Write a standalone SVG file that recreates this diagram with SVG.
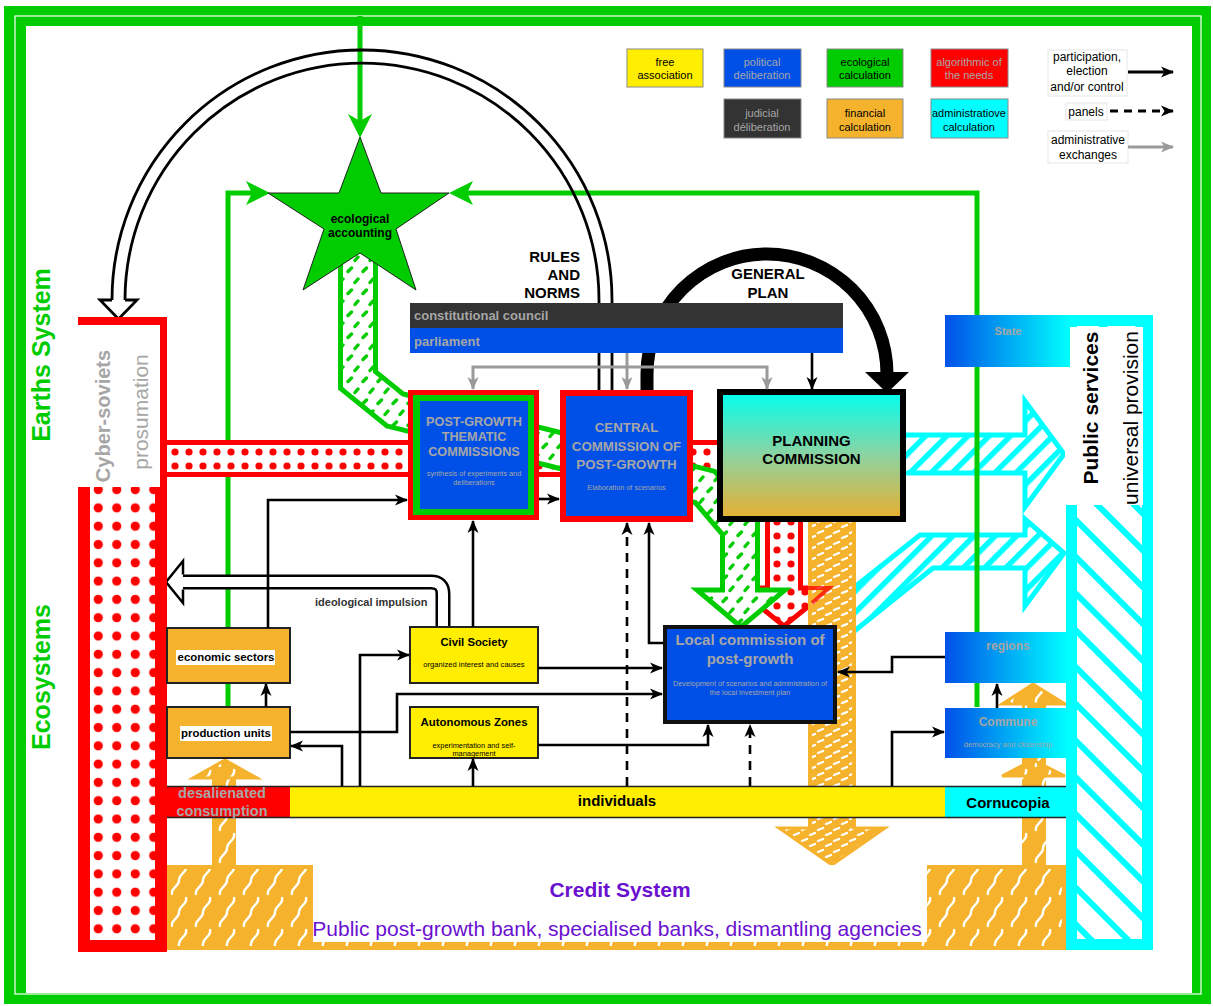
<svg xmlns="http://www.w3.org/2000/svg" width="1213" height="1006" viewBox="0 0 1213 1006">
<defs>
<pattern id="rdV" patternUnits="userSpaceOnUse" x="89" y="498.75" width="18.5" height="18.3"><rect width="18.5" height="18.3" fill="#fff"/><circle cx="9.25" cy="9.15" r="4.6" fill="#f00"/></pattern>
<pattern id="rdH" patternUnits="userSpaceOnUse" x="770" y="445" width="14" height="14"><rect width="14" height="14" fill="#fff"/><circle cx="7" cy="7" r="3.6" fill="#f00"/></pattern>
<pattern id="gd" patternUnits="userSpaceOnUse" width="15" height="22"><rect width="15" height="22" fill="#fff"/><path d="M3 7.5 L6.5 4 M10 18.5 L13 15" stroke="#00cc00" stroke-width="3.4" stroke-linecap="round"/></pattern>
<pattern id="od" patternUnits="userSpaceOnUse" width="16" height="11"><rect width="16" height="11" fill="#f5b22c"/><path d="M2 5 L7 3 M10 10 L15 8" stroke="#fff" stroke-width="2.4" stroke-linecap="round"/></pattern>
<pattern id="wave" patternUnits="userSpaceOnUse" width="24" height="32"><rect width="24" height="32" fill="#f5b22c"/><path d="M4 31 C 2 24, 11 23, 11 16 S 20 9, 18 1" stroke="#fff" stroke-width="2.4" fill="none"/></pattern>
<pattern id="ch" patternUnits="userSpaceOnUse" width="15" height="15" patternTransform="rotate(45)"><rect width="15" height="15" fill="#fff"/><rect width="5.5" height="15" fill="#00ffff"/></pattern>
<pattern id="ph" patternUnits="userSpaceOnUse" width="26" height="26" patternTransform="rotate(-45)"><rect width="26" height="26" fill="#fff"/><rect width="6" height="26" fill="#00ffff"/></pattern>
<linearGradient id="bc" x1="0" y1="0" x2="1" y2="0"><stop offset="0" stop-color="#0050e8"/><stop offset="1" stop-color="#00ffff"/></linearGradient>
<linearGradient id="pl" x1="0" y1="0" x2="0" y2="1"><stop offset="0" stop-color="#00fff0"/><stop offset="0.5" stop-color="#8dd3a0"/><stop offset="1" stop-color="#e9ae2e"/></linearGradient>
<marker id="ah" viewBox="0 0 14 14" refX="13" refY="7" markerWidth="14" markerHeight="14" markerUnits="userSpaceOnUse" orient="auto"><path d="M1,1.5 L14,7 L1,12.5 L4.5,7 z" fill="#000"/></marker>
<marker id="ahg" viewBox="0 0 14 14" refX="13" refY="7" markerWidth="14" markerHeight="14" markerUnits="userSpaceOnUse" orient="auto"><path d="M1,1.5 L14,7 L1,12.5 L4.5,7 z" fill="#9a9a9a"/></marker>
</defs>
<style>
text{font-family:"Liberation Sans",Arial,Helvetica,sans-serif}
.b{font-weight:bold}
.m{text-anchor:middle}
.c{fill:none;stroke:#000;stroke-width:2.6;marker-end:url(#ah)}
.d{stroke-dasharray:9 7}
.g{fill:none;stroke:#9a9a9a;stroke-width:3;marker-end:url(#ahg)}
.gt{fill:#a6a6a6}
.box{stroke:#222;stroke-width:2}
.lg{stroke:#888;stroke-width:1}
.gl{fill:none;stroke:#00cc00;stroke-width:5}
</style>

<g id="frame">
<rect x="4" y="6" width="1207" height="998" fill="#00cc00"/>
<rect x="15" y="16" width="1186" height="978" fill="none" stroke="#fff" stroke-width="1.2"/>
<rect x="26" y="26" width="1166" height="967" fill="#fff"/>
</g>

<g id="legend">
<rect class="lg" x="627" y="49" width="76" height="38" fill="#ffee00"/>
<text class="m" x="665" y="66" font-size="11">free</text><text class="m" x="665" y="79" font-size="11">association</text>
<rect class="lg" x="724" y="49" width="77" height="38" fill="#0050e8"/>
<text class="m gt" x="762" y="66" font-size="11">political</text><text class="m gt" x="762" y="79" font-size="11">deliberation</text>
<rect class="lg" x="827" y="49" width="76" height="38" fill="#00cc00"/>
<text class="m" x="865" y="66" font-size="11">ecological</text><text class="m" x="865" y="79" font-size="11">calculation</text>
<rect class="lg" x="931" y="49" width="77" height="38" fill="#ff0000"/>
<text class="m gt" x="969" y="66" font-size="11">algorithmic of</text><text class="m gt" x="969" y="79" font-size="11">the needs</text>
<rect class="lg" x="724" y="99" width="77" height="39" fill="#333"/>
<text class="m gt" x="762" y="117" font-size="11">judicial</text><text class="m gt" x="762" y="131" font-size="11">déliberation</text>
<rect class="lg" x="827" y="99" width="76" height="39" fill="#f5b22c"/>
<text class="m" x="865" y="117" font-size="11">financial</text><text class="m" x="865" y="131" font-size="11">calculation</text>
<rect class="lg" x="931" y="99" width="77" height="39" fill="#00ffff"/>
<text class="m" x="969" y="117" font-size="11">administratiove</text><text class="m" x="969" y="131" font-size="11">calculation</text>
<rect x="1048" y="50" width="79" height="46" fill="#fff" stroke="#e6e6e6"/>
<text class="m" x="1087" y="61" font-size="12">participation,</text>
<text class="m" x="1087" y="75" font-size="12">election</text>
<text class="m" x="1087" y="91" font-size="12">and/or control</text>
<rect x="1066" y="103" width="41" height="17" fill="#fff" stroke="#e6e6e6"/>
<text class="m" x="1086" y="116" font-size="12">panels</text>
<rect x="1048" y="131" width="80" height="32" fill="#fff" stroke="#e6e6e6"/>
<text class="m" x="1088" y="144" font-size="12">administrative</text>
<text class="m" x="1088" y="159" font-size="12">exchanges</text>
<path class="c" d="M1128 72 L1173 72" style="stroke-width:3"/>
<path class="c d" d="M1110 111 L1173 111" style="stroke-width:3;stroke-dasharray:8 6"/>
<path class="g" d="M1128 147 L1173 147"/>
</g>

<g id="flows">
<polygon points="898,435 1025,435 1025,401 1064,454 1025,507 1025,473 898,473" fill="url(#ch)" stroke="#00ffff" stroke-width="5"/>
<polygon points="812,621 920,535 1025,535 1025,519 1064,553 1025,606 1025,568 933,568 812,665" fill="url(#ch)" stroke="#00ffff" stroke-width="5"/>
<path class="gl" d="M360 16 L360 125"/>
<polygon points="360,138 348,114 360,121 372,114" fill="#00cc00"/>
<path class="gl" d="M256 193 L228 193 L228 707"/>
<polygon points="270,193 246,181 252,193 246,205" fill="#00cc00"/>
<path class="gl" d="M460 193 L977 193 L977 707"/>
<polygon points="449,193 473,181 467,193 473,205" fill="#00cc00"/>
<path d="M160 458.5 L720 458.5" stroke="#f00" stroke-width="37" fill="none"/>
<path d="M167 458.5 L720 458.5" stroke="url(#rdH)" stroke-width="27" fill="none"/>
<path d="M784 518 L784 590" stroke="#f00" stroke-width="38" fill="none"/>
<polygon points="737,588 831,588 784,626" fill="url(#rdH)" stroke="#f00" stroke-width="5"/>
<path d="M784 518 L784 595" stroke="url(#rdH)" stroke-width="28" fill="none"/>
<path d="M358 250 L358 380 L395 410 L550 448 L705 487 L740 528 L740 592" stroke="#00cc00" stroke-width="40" fill="none"/>
<polygon points="697,590 785,590 741,627" fill="url(#gd)" stroke="#00cc00" stroke-width="5"/>
<path d="M358 250 L358 380 L395 410 L550 448 L705 487 L740 528 L740 597" stroke="url(#gd)" stroke-width="30" fill="none"/>
<rect x="810" y="520" width="44" height="310" fill="url(#od)" stroke="#f5b22c" stroke-width="4"/>
<polygon points="779,828 885,828 832,865" fill="url(#od)" stroke="#f5b22c" stroke-width="3"/>
<rect x="812" y="822" width="40" height="10" fill="url(#od)"/>
<path d="M808 588 L829 588 L812 603" fill="none" stroke="#f00" stroke-width="4" opacity="0.75"/>
<path d="M612 392 L612 300 A250 250 0 0 0 112 300" fill="none" stroke="#000" stroke-width="2.8"/>
<path d="M599 392 L599 300 A237 237 0 0 0 125 300" fill="none" stroke="#000" stroke-width="2.8"/>
<path d="M112 300 L100 300 L118.5 319 L137 300 L125 300" fill="#fff" stroke="#000" stroke-width="2.8"/>
<path d="M647 392 L647 374 A120 120 0 0 1 887 374 L887 376" fill="none" stroke="#000" stroke-width="13"/>
<polygon points="865,372 909,372 887,393" fill="#000"/>
<rect x="212" y="776" width="24" height="92" fill="url(#wave)"/>
<polygon points="193,778 257,778 225,760" fill="url(#wave)" stroke="#f5b22c" stroke-width="3"/>
<rect x="1022" y="700" width="24" height="168" fill="url(#wave)"/>
<polygon points="1002,776 1065,776 1033,760" fill="url(#wave)" stroke="#f5b22c" stroke-width="3"/>
<polygon points="1002,704 1065,704 1033,684" fill="url(#wave)" stroke="#f5b22c" stroke-width="3"/>
<path d="M443 627 L443 594 Q443 582 431 582 L183 582" fill="none" stroke="#000" stroke-width="15"/>
<path d="M443 628 L443 594 Q443 582 431 582 L183 582" fill="none" stroke="#fff" stroke-width="10"/>
<path d="M183 574.5 L183 561 L166 582 L183 603 L183 589.5" fill="#fff" stroke="#000" stroke-width="2.5"/>
</g>

<g id="star">
<polygon points="360,137 381,193 449,193 396,229 416,290 360,253 303,290 324,229 268,193 339,193" fill="#00cc00" stroke="#222" stroke-width="1"/>
<text class="b m" x="360" y="223" font-size="12">ecological</text>
<text class="b m" x="360" y="237" font-size="12">accounting</text>
</g>

<g id="constitutional-council">
<rect x="410" y="303" width="433" height="25" fill="#333"/>
<text class="b gt" x="414" y="320" font-size="13">constitutional council</text>
</g>
<g id="parliament">
<rect x="410" y="328" width="433" height="25" fill="#0050e8"/>
<text class="b gt" x="414" y="346" font-size="13">parliament</text>
</g>

<g id="cyber-soviets">
<rect x="84" y="323" width="77" height="623" fill="url(#rdV)" stroke="#f00" stroke-width="12"/>
<rect x="78" y="325" width="82" height="162" fill="#fff"/>
<text class="b m gt" font-size="20" transform="translate(110,416) rotate(-90)">Cyber-soviets</text>
<text class="m gt" font-size="21" transform="translate(148,412) rotate(-90)">prosumation</text>
</g>

<g id="public-services">
<rect x="1071.5" y="320.5" width="76" height="624" fill="url(#ph)" stroke="#00ffff" stroke-width="11"/>
<rect x="1065" y="327" width="78" height="178" fill="#fff"/>
<text class="b m" font-size="21" transform="translate(1098,408) rotate(-90)">Public services</text>
<text class="m" font-size="21" transform="translate(1138,418) rotate(-90)">universal provision</text>
</g>

<g id="state">
<rect x="945" y="315" width="125" height="52" fill="url(#bc)"/>
<text class="b m gt" x="1008" y="335" font-size="11">State</text>
</g>
<g id="regions">
<rect x="945" y="632" width="123" height="51" fill="url(#bc)"/>
<text class="b m gt" x="1008" y="650" font-size="12">regions</text>
</g>
<g id="commune">
<rect x="945" y="708" width="123" height="50" fill="url(#bc)"/>
<text class="b m gt" x="1008" y="726" font-size="12">Commune</text>
<text class="m gt" x="1008" y="747" font-size="7.5">democracy and citizenship</text>
</g>

<g id="credit-system">
<rect x="169" y="867" width="895" height="81" fill="url(#wave)" stroke="#f5b22c" stroke-width="4"/>
<rect x="313" y="865" width="614" height="77" fill="#fff"/>
<text class="b m" x="620" y="897" font-size="21" fill="#6a10d0">Credit System</text>
<text class="m" x="617" y="936" font-size="21" fill="#6a10d0">Public post-growth bank, specialised banks, dismantling agencies</text>
</g>

<g id="individuals">
<rect x="167" y="787" width="123" height="30" fill="#ff0000"/>
<rect x="290" y="787" width="655" height="30" fill="#ffee00"/>
<rect x="945" y="787" width="121" height="30" fill="#00ffff"/>
<path d="M167 786.5 L1066 786.5 M167 817.5 L1066 817.5" stroke="#222" stroke-width="1.5"/>
<text class="b m gt" x="222" y="798" font-size="14.5">desalienated</text>
<text class="b m gt" x="222" y="816" font-size="14.5">consumption</text>
<text class="b m" x="617" y="806" font-size="15">individuals</text>
<text class="b m" x="1008" y="808" font-size="15">Cornucopia</text>
</g>

<g id="thematic-commissions">
<rect x="408" y="390" width="131" height="130" fill="#f00"/>
<rect x="413" y="395" width="121" height="120" fill="#00cc00"/>
<rect x="420" y="401" width="108" height="108" fill="#0050e8"/>
<text class="b m gt" x="474" y="426" font-size="12.7">POST-GROWTH</text>
<text class="b m gt" x="474" y="441" font-size="12.7">THEMATIC</text>
<text class="b m gt" x="474" y="456" font-size="12.7">COMMISSIONS</text>
<text class="m gt" x="474" y="476" font-size="7.3">synthesis of experiments and</text>
<text class="m gt" x="474" y="485" font-size="7.3">deliberations</text>
</g>

<g id="central-commission">
<rect x="560" y="390" width="133" height="132" fill="#f00"/>
<rect x="566" y="396" width="121" height="120" fill="#0050e8"/>
<text class="b m gt" x="626.5" y="432" font-size="13.3">CENTRAL</text>
<text class="b m gt" x="626.5" y="451" font-size="13.3">COMMISSION OF</text>
<text class="b m gt" x="626.5" y="469" font-size="13.3">POST-GROWTH</text>
<text class="m gt" x="626.5" y="490" font-size="7.3">Elaboration of scenarios</text>
</g>

<g id="planning-commission">
<rect x="720" y="392" width="183" height="127" fill="url(#pl)" stroke="#000" stroke-width="6"/>
<text class="b m" x="811.5" y="446" font-size="15">PLANNING</text>
<text class="b m" x="811.5" y="464" font-size="15">COMMISSION</text>
</g>

<g id="local-commission">
<rect x="665" y="627" width="170" height="95" fill="#0050e8" stroke="#111" stroke-width="4"/>
<text class="b m gt" x="750" y="645" font-size="15">Local commission of</text>
<text class="b m gt" x="750" y="664" font-size="15">post-growth</text>
<text class="m gt" x="750" y="686" font-size="7.3">Development of scenarios and administration of</text>
<text class="m gt" x="750" y="695" font-size="7.3">the local investment plan</text>
</g>

<g id="economic-sectors">
<rect class="box" x="167" y="628" width="123" height="55" fill="#f5b22c"/>
<rect x="176" y="650" width="99" height="15" fill="#fff"/>
<text class="b m" x="226" y="661" font-size="11.4">economic sectors</text>
</g>
<g id="production-units">
<rect class="box" x="167" y="707" width="123" height="51" fill="#f5b22c"/>
<rect x="180" y="726" width="92" height="15" fill="#fff"/>
<text class="b m" x="226" y="737" font-size="11.4">production units</text>
</g>
<g id="civil-society">
<rect class="box" x="410" y="627" width="128" height="56" fill="#ffee00"/>
<text class="b m" x="474" y="646" font-size="11.3">Civil Society</text>
<text class="m" x="474" y="667" font-size="7.6">organized interest and causes</text>
</g>
<g id="autonomous-zones">
<rect class="box" x="410" y="707" width="128" height="51" fill="#ffee00"/>
<text class="b m" x="474" y="726" font-size="11.4">Autonomous Zones</text>
<text class="m" x="474" y="748" font-size="7.4">experimentation and self-</text>
<text class="m" x="474" y="756" font-size="7.4">management</text>
</g>

<g id="connectors">
<path class="g" d="M627 353 L627 389"/>
<path class="g" d="M627 367 L473 367 L473 389"/>
<path class="g" d="M627 367 L767 367 L767 389"/>
<path class="c" d="M812 353 L812 389"/>
<path class="c" d="M268 628 L268 500 L407 500"/>
<path class="c" d="M539 499 L559 499"/>
<path class="c" d="M473 627 L473 521"/>
<path class="c" d="M360 786 L360 655 L409 655"/>
<path class="c" d="M342 786 L342 746 L291 746"/>
<path class="c" d="M290 732 L397 732 L397 694 L662 694"/>
<path class="c" d="M538 668 L662 668"/>
<path class="c" d="M538 745 L708 745 L708 725"/>
<path class="c" d="M473 786 L473 759"/>
<path class="c d" d="M627 786 L627 523"/>
<path class="c" d="M663 643 L649 643 L649 523"/>
<path class="c d" d="M750 786 L750 725"/>
<path class="c" d="M945 657 L892 657 L892 672 L838 672"/>
<path class="c" d="M892 786 L892 732 L944 732"/>
<path class="c" d="M997 708 L997 684"/>
<path class="c" d="M266 707 L266 684"/>
</g>

<g id="labels">
<text class="b" x="580" y="262" font-size="15" text-anchor="end">RULES</text>
<text class="b" x="580" y="280" font-size="15" text-anchor="end">AND</text>
<text class="b" x="580" y="298" font-size="15" text-anchor="end">NORMS</text>
<text class="b m" x="768" y="279" font-size="15">GENERAL</text>
<text class="b m" x="768" y="298" font-size="15">PLAN</text>
<text class="b" x="315" y="606" font-size="11" fill="#333">ideological impulsion</text>
<text class="b m" font-size="25" fill="#00cc00" transform="translate(50,355) rotate(-90)">Earths System</text>
<text class="b m" font-size="25" fill="#00cc00" transform="translate(50,677) rotate(-90)">Ecosystems</text>
</g>
</svg>
